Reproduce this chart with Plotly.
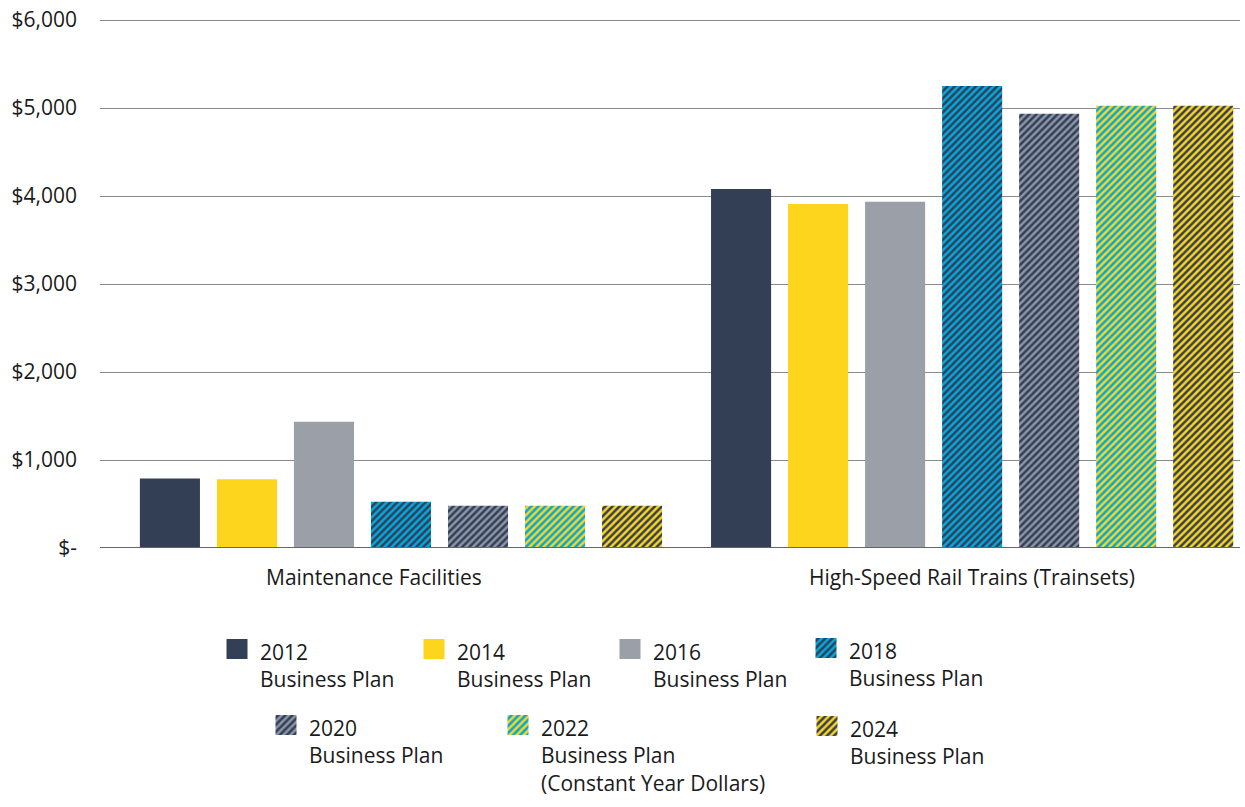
import plotly.graph_objects as go

categories = ["Maintenance Facilities", "High-Speed Rail Trains (Trainsets)"]
plans = ["2012<br>Business Plan", "2014<br>Business Plan", "2016<br>Business Plan",
         "2018<br>Business Plan", "2020<br>Business Plan",
         "2022<br>Business Plan<br>(Constant Year Dollars)", "2024<br>Business Plan"]
maintenance = [790, 780, 1435, 525, 480, 480, 480]
trainsets = [4080, 3910, 3935, 5250, 4935, 5025, 5025]
tick_vals = [0, 1000, 2000, 3000, 4000, 5000, 6000]
tick_text = ["$-", "$1,000", "$2,000", "$3,000", "$4,000", "$5,000", "$6,000"]

NAVY = "#323F55"
YELLOW = "#FDD51C"
GRAY = "#9A9FA8"
BLUE = "#00A9E0"
STRIPE_GRAY = "#8C95A6"

styles = [
    dict(bg=NAVY, fg=None),
    dict(bg=YELLOW, fg=None),
    dict(bg=GRAY, fg=None),
    dict(bg=BLUE, fg=NAVY),
    dict(bg=NAVY, fg=STRIPE_GRAY),
    dict(bg=BLUE, fg=YELLOW),
    dict(bg=YELLOW, fg=NAVY),
]

FONT = "Open Sans"
W, H = 1245, 807
OFF = 0            # body margin removed via post_script
YMAX = 6000
PAD = 60           # small headroom so the top tick/grid line is kept

def marker_for(s):
    if s["fg"] is None:
        return dict(color=s["bg"], line=dict(width=0))
    return dict(color=s["bg"], line=dict(width=0),
                pattern=dict(shape="/", fgcolor=s["fg"], bgcolor=s["bg"],
                             size=5, solidity=0.5, fillmode="replace"))

fig = go.Figure()
for i, name in enumerate(plans):
    fig.add_trace(go.Bar(
        x=categories, y=[maintenance[i], trainsets[i]], name=name.replace("<br>", " "),
        marker=marker_for(styles[i]), showlegend=False, xaxis="x", yaxis="y",
        hoverinfo="skip"))

# custom legend (swatches on a pixel-coordinate overlay axis, page coordinates)
sw_x = [227, 424, 620, 816, 276, 508, 817]
sw_y = [639, 639, 639, 638, 715, 715, 716]
for i, name in enumerate(plans):
    fig.add_trace(go.Bar(
        x=[sw_x[i] + 10], y=[20], base=[sw_y[i]], width=[21],
        marker=marker_for(styles[i]), showlegend=False,
        xaxis="x2", yaxis="y2", hoverinfo="skip"))
    fig.add_annotation(
        x=sw_x[i] + 31, y=sw_y[i] - 3, xref="x2", yref="y2",
        text=name, showarrow=False, xanchor="left", yanchor="top", align="left",
        font=dict(family=FONT, size=21, color="#1a1a1a"))

# category labels
cat_pos = [-0.047, 1.0]
for i, c in enumerate(categories):
    fig.add_annotation(
        x=cat_pos[i], y=577, xref="x", yref="y2", text=c, showarrow=False,
        xanchor="center", yanchor="middle",
        font=dict(family=FONT, size=21, color="#1a1a1a"))

px_per_unit = (548 - 20) / YMAX
top_px = 20 - PAD * px_per_unit

fig.update_layout(
    width=W, height=H,
    margin=dict(l=0, r=0, t=0, b=0, autoexpand=False),
    paper_bgcolor="white", plot_bgcolor="rgba(0,0,0,0)",
    barmode="group", bargap=0.056, bargroupgap=0.22,
    font=dict(family=FONT, size=21, color="#1a1a1a"),
    xaxis=dict(domain=[(100 - OFF) / W, (1240 - OFF) / W], type="category", anchor="y",
               range=[-0.527, 1.469], showticklabels=False, showgrid=False,
               zeroline=False, showline=False, ticks=""),
    yaxis=dict(domain=[(H - (548 - OFF)) / H, (H - (top_px - OFF)) / H],
               range=[0, YMAX + PAD],
               anchor="x", tickvals=tick_vals, ticktext=tick_text, showgrid=True,
               gridcolor="#8a8a8a", gridwidth=1, zeroline=False,
               showline=False, ticks="", ticklabelstandoff=22,
               ticklabeloverflow="allow", automargin=False,
               tickfont=dict(family=FONT, size=21, color="#1a1a1a")),
    xaxis2=dict(domain=[0, 1], range=[OFF, W + OFF], visible=False, anchor="y2"),
    yaxis2=dict(domain=[0, 1], range=[H + OFF, OFF], visible=False, anchor="x2"),
    showlegend=False,
)
# baseline
fig.add_shape(type="line", xref="paper", yref="y", x0=(100 - OFF) / W, x1=(1240 - OFF) / W,
              y0=0, y1=0, line=dict(color="#666666", width=2), layer="above")

fig.write_html("out.html",
               config={"displayModeBar": False, "staticPlot": True},
               post_script="document.body.style.margin='0';document.body.style.overflow='hidden';")
